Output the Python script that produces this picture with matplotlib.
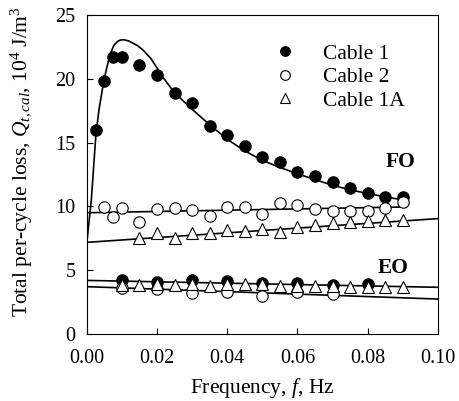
import matplotlib
matplotlib.use("Agg")
import matplotlib.pyplot as plt

plt.rcParams['font.family'] = ['Liberation Serif', 'DejaVu Serif']
plt.rcParams['mathtext.fontset'] = 'custom'
plt.rcParams['mathtext.rm'] = 'Liberation Serif'
plt.rcParams['mathtext.it'] = 'Liberation Serif:italic'
plt.rcParams['mathtext.bf'] = 'Liberation Serif:bold'

# ---------------- data ----------------
# FO (full operation) measurements
f_c1_fo = [0.0025, 0.005, 0.0075, 0.01, 0.015, 0.02, 0.025, 0.03, 0.035, 0.04,
           0.045, 0.05, 0.055, 0.06, 0.065, 0.07, 0.075, 0.08, 0.085, 0.09]
q_c1_fo = [16.0, 19.85, 21.7, 21.7, 21.1, 20.3, 18.9, 18.1, 16.3, 15.55,
           14.75, 13.85, 13.45, 12.7, 12.4, 11.9, 11.45, 11.05, 10.75, 10.75]

f_c2_fo = [0.005, 0.0075, 0.01, 0.015, 0.02, 0.025, 0.03, 0.035, 0.04, 0.045,
           0.05, 0.055, 0.06, 0.065, 0.07, 0.075, 0.08, 0.085, 0.09]
q_c2_fo = [9.98, 9.2, 9.85, 8.8, 9.8, 9.85, 9.72, 9.25, 9.98, 9.93,
           9.38, 10.24, 10.1, 9.77, 9.66, 9.6, 9.66, 9.85, 10.37]

f_c1a_fo = [0.015, 0.02, 0.025, 0.03, 0.035, 0.04, 0.045, 0.05, 0.055, 0.06,
            0.065, 0.07, 0.075, 0.08, 0.085, 0.09]
q_c1a_fo = [7.5, 7.9, 7.55, 7.9, 7.95, 8.15, 8.07, 8.23, 8.02, 8.41,
            8.54, 8.67, 8.8, 8.86, 8.93, 8.93]

# EO measurements
f_c1_eo = [0.01, 0.02, 0.03, 0.04, 0.05, 0.06, 0.07, 0.08]
q_c1_eo = [4.23, 4.1, 4.25, 4.15, 3.97, 3.97, 3.85, 3.95]

f_c2_eo = [0.01, 0.02, 0.03, 0.04, 0.05, 0.06, 0.07]
q_c2_eo = [3.62, 3.5, 3.19, 3.28, 3.0, 3.26, 3.13]

f_c1a_eo = [0.01, 0.015, 0.02, 0.025, 0.03, 0.035, 0.04, 0.045, 0.05, 0.055,
            0.06, 0.065, 0.07, 0.075, 0.08, 0.085, 0.09]
q_c1a_eo = [3.85, 3.85, 3.9, 3.85, 3.95, 3.8, 3.95, 3.95, 3.9, 3.75,
            3.8, 3.75, 3.8, 3.7, 3.7, 3.7, 3.7]

# fitted / model curves
f_fit_c1_fo = [0.0, 0.0013, 0.0026, 0.0035, 0.0049, 0.006, 0.0068, 0.0077, 0.0087,
               0.0095, 0.0106, 0.012, 0.0144, 0.016, 0.0182, 0.02, 0.022, 0.025,
               0.03, 0.035, 0.04, 0.045, 0.05, 0.055, 0.06, 0.065, 0.07, 0.075,
               0.08, 0.085, 0.09]
q_fit_c1_fo = [7.1, 10.5, 15.6, 17.6, 19.9, 21.2, 22.0, 22.6, 22.9,
               23.02, 23.05, 22.95, 22.6, 22.25, 21.6, 20.85, 20.0, 18.9,
               17.6, 16.4, 15.25, 14.35, 13.6, 13.05, 12.55, 12.1, 11.65, 11.3,
               11.0, 10.75, 10.5]
f_fit_c2_fo = [0.0, 0.09]
q_fit_c2_fo = [9.5, 9.95]
f_fit_c1a_fo = [0.0, 0.1]
q_fit_c1a_fo = [7.18, 9.04]
f_fit_c1_eo = [0.0, 0.1]
q_fit_c1_eo = [4.2, 3.66]
f_fit_c2_eo = [0.0, 0.1]
q_fit_c2_eo = [3.71, 2.74]

x_ticks = [0.00, 0.02, 0.04, 0.06, 0.08, 0.10]
y_ticks = [0, 5, 10, 15, 20, 25]

# ---------------- plot ----------------
fig = plt.figure(figsize=(4.59, 4.01), dpi=100)
ax = fig.add_axes([0.189, 0.167, 0.765, 0.796])

lw = 1.2
for fx, fy in [(f_fit_c1_fo, q_fit_c1_fo), (f_fit_c2_fo, q_fit_c2_fo),
               (f_fit_c1a_fo, q_fit_c1a_fo), (f_fit_c1_eo, q_fit_c1_eo),
               (f_fit_c2_eo, q_fit_c2_eo)]:
    ax.plot(fx, fy, color='black', lw=lw, zorder=2)

ms_c = 8.2
ms_t = 8.2
ax.plot(f_c1_fo, q_c1_fo, 'o', ms=ms_c, mfc='black', mec='black', mew=0.8, zorder=3, label='Cable 1')
ax.plot(f_c1_eo, q_c1_eo, 'o', ms=ms_c, mfc='black', mec='black', mew=0.8, zorder=3)
ax.plot(f_c2_fo, q_c2_fo, 'o', ms=ms_c, mfc='white', mec='black', mew=0.8, zorder=3, label='Cable 2')
ax.plot(f_c2_eo, q_c2_eo, 'o', ms=ms_c, mfc='white', mec='black', mew=0.8, zorder=3)
ax.plot(f_c1a_fo, q_c1a_fo, '^', ms=ms_t, mfc='white', mec='black', mew=0.8, zorder=4, label='Cable 1A')
ax.plot(f_c1a_eo, q_c1a_eo, '^', ms=ms_t, mfc='white', mec='black', mew=0.8, zorder=4)

ax.set_xlim(0, 0.1)
ax.set_ylim(0, 25)
ax.set_xticks(x_ticks)
ax.set_xticklabels([f"{v:.2f}" for v in x_ticks])
ax.set_yticks(y_ticks)
ax.tick_params(direction='in', length=4, width=0.8, labelsize=14.5,
               top=False, right=False)
ax.tick_params(axis='x', pad=10.5)
ax.tick_params(axis='y', pad=8)
for s in ax.spines.values():
    s.set_linewidth(0.8)

lab_fs = 15.5
ax.set_xlabel(r"Frequency, $f$, Hz", fontsize=lab_fs)
ax.set_ylabel(r"Total per-cycle loss, $Q_{t,cal}$, 10$^4$ J/m$^3$", fontsize=lab_fs)
ax.xaxis.set_label_coords(0.5, -0.133)
ax.yaxis.set_label_coords(-0.149, 0.539)

ax.text(0.0937, 13.5, "FO", fontsize=lab_fs, fontweight='bold', ha='right', va='center')
ax.text(0.0917, 5.15, "EO", fontsize=lab_fs, fontweight='bold', ha='right', va='center')

leg = ax.legend(loc='upper left', bbox_to_anchor=(0.5337, 0.910), frameon=False,
                fontsize=lab_fs, handlelength=1.0, handletextpad=1.27,
                labelspacing=0.16, borderpad=0, borderaxespad=0, markerscale=0.85)

fig.savefig("out.png", dpi=100)
